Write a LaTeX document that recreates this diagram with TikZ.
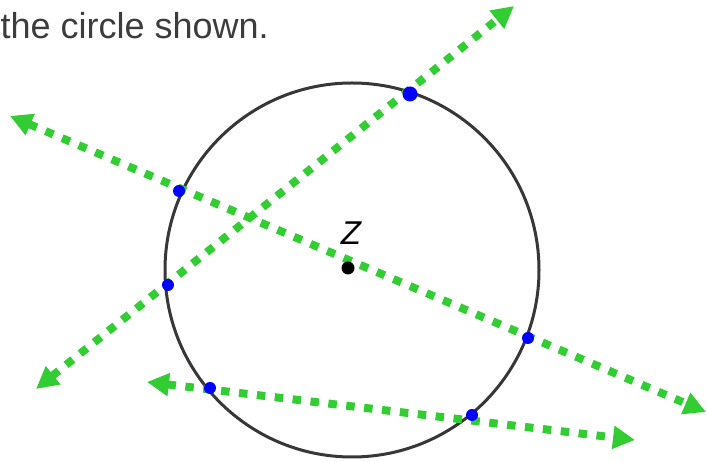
\documentclass[tikz,border=0pt]{standalone}
\usepackage{fontspec}
\setmainfont{Liberation Sans}
\usetikzlibrary{arrows.meta}
\definecolor{lgreen}{RGB}{50,205,50}
\definecolor{cgray}{RGB}{55,55,55}
\definecolor{tgray}{RGB}{60,60,60}
\begin{document}
\begin{tikzpicture}[x=1pt,y=1pt,
  gline/.style={draw=lgreen,line width=8pt,dash pattern=on 8.5pt off 9.5pt,
    {Triangle[length=22pt,width=22pt,fill=lgreen]}-{Triangle[length=22pt,width=22pt,fill=lgreen]}},
  bdot/.style={circle,fill=blue,inner sep=0pt,minimum size=12pt},
  bigdot/.style={circle,fill=blue,inner sep=0pt,minimum size=15pt},
  kdot/.style={circle,fill=black,inner sep=0pt,minimum size=13pt}]
\useasboundingbox (0,0) rectangle (707,462);
\node[anchor=base west,text=tgray,font=\fontsize{36}{40}\selectfont,inner sep=0pt] (title) at (0.5,423) {the circle shown.};
\node[circle,draw=cgray,line width=3pt,minimum size=374pt,inner sep=0pt] (circ) at (352,192) {};
% line end points
\coordinate (A1) at (36,73);
\coordinate (A2) at (514,456);
\coordinate (B1) at (10,346);
\coordinate (B2) at (706,50);
\coordinate (C1) at (147,80);
\coordinate (C2) at (635,22);
\draw[gline] (A1) -- (A2);
\draw[gline] (B1) -- (B2);
\draw[gline] (C1) -- (C2);
% center
\node[kdot] (zdot) at (348,194) {};
\node[text=black,font=\fontsize{33}{35}\selectfont\itshape,inner sep=0pt] (zlab) at (351,229) {Z};
% points on circle
\node[bdot] (p1) at (179,271) {};
\node[bdot] (p2) at (168,177) {};
\node[bigdot] (p3) at (410,368) {};
\node[bdot] (p4) at (528,124) {};
\node[bdot] (p5) at (210,74) {};
\node[bdot] (p6) at (472,47) {};
\end{tikzpicture}
\end{document}
